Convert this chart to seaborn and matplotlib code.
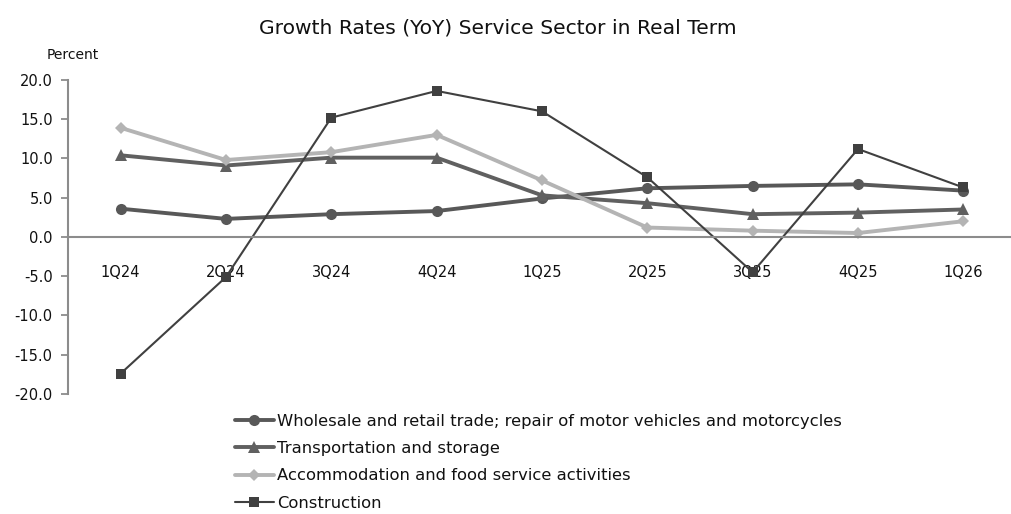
import numpy as np
import pandas as pd
import seaborn as sns
import matplotlib.pyplot as plt

quarters = ["1Q24", "2Q24", "3Q24", "4Q24", "1Q25", "2Q25", "3Q25", "4Q25", "1Q26"]
wholesale = [3.6, 2.3, 2.9, 3.3, 4.9, 6.2, 6.5, 6.7, 5.9]
transport = [10.4, 9.1, 10.1, 10.1, 5.3, 4.3, 2.9, 3.1, 3.5]
accommodation = [13.9, 9.8, 10.8, 13.0, 7.2, 1.2, 0.8, 0.5, 2.0]
construction = [-17.4, -5.1, 15.2, 18.6, 16.0, 7.6, -4.5, 11.2, 6.3]

series_names = [
    "Wholesale and retail trade; repair of motor vehicles and motorcycles",
    "Transportation and storage",
    "Accommodation and food service activities",
    "Construction",
]
series_values = [wholesale, transport, accommodation, construction]

sns.set_style("white")
plt.rcParams['font.family'] = ['DejaVu Sans']
plt.rcParams['text.color'] = '#111111'
plt.rcParams['xtick.color'] = '#111111'
plt.rcParams['ytick.color'] = '#111111'

fig = plt.figure(figsize=(10.11, 5.14), dpi=100)
ax = fig.add_axes([68 / 1011, 0.2335, 948 / 1011, 0.611])

styles = [
    dict(color="#585858", marker="o", markersize=8, linewidth=2.8),
    dict(color="#606060", marker="^", markersize=9, linewidth=2.8),
    dict(color="#b4b4b4", marker="D", markersize=6.5, linewidth=2.8),
    dict(color="#404040", marker="s", markersize=7, linewidth=1.5),
]

for name, vals, st in zip(series_names, series_values, styles):
    df = pd.DataFrame({"x": np.arange(len(quarters)), "y": vals})
    sns.lineplot(data=df, x="x", y="y", ax=ax, label=name,
                 color=st["color"], marker=st["marker"], markersize=st["markersize"],
                 linewidth=st["linewidth"], markeredgewidth=0, clip_on=False)

ax.set_xlim(-0.5, len(quarters) - 0.5)
ax.set_ylim(-20, 20)
ax.set_yticks(np.arange(-20, 21, 5))
ax.set_yticklabels([f"{v:.1f}" for v in np.arange(-20, 21, 5)], fontsize=10.5)

ax.spines['top'].set_visible(False)
ax.spines['right'].set_visible(False)
ax.spines['bottom'].set_position(('data', 0))
for s in ('left', 'bottom'):
    ax.spines[s].set_color("#8c8c8c")
    ax.spines[s].set_linewidth(1.5)

ax.set_xticks(np.arange(len(quarters)))
ax.set_xticklabels(quarters, fontsize=10.5)
ax.set_xticks(np.arange(0.5, len(quarters) - 1, 1), minor=True)
ax.tick_params(axis='x', which='major', length=0, pad=20)
ax.tick_params(axis='x', which='minor', length=5, width=1.3, color="#8c8c8c", direction='out')
ax.tick_params(axis='y', length=5, width=1.3, color="#8c8c8c", direction='out', left=True, pad=6)
ax.set_xlabel("")
ax.set_ylabel("")

fig.text(73 / 1011, 1 - 55 / 514, "Percent", fontsize=10, ha="center", va="center")
fig.text(498 / 1011, 1 - 28 / 514, "Growth Rates (YoY) Service Sector in Real Term",
         fontsize=14.6, ha="center", va="center")

leg = ax.legend(loc="upper left", bbox_to_anchor=(228 / 1011, 1 - 407 / 514),
                bbox_transform=fig.transFigure, frameon=False, fontsize=11.8,
                handlelength=2.4, handletextpad=0.2, labelspacing=0.76, borderaxespad=0)

fig.savefig("out.png", dpi=100)
